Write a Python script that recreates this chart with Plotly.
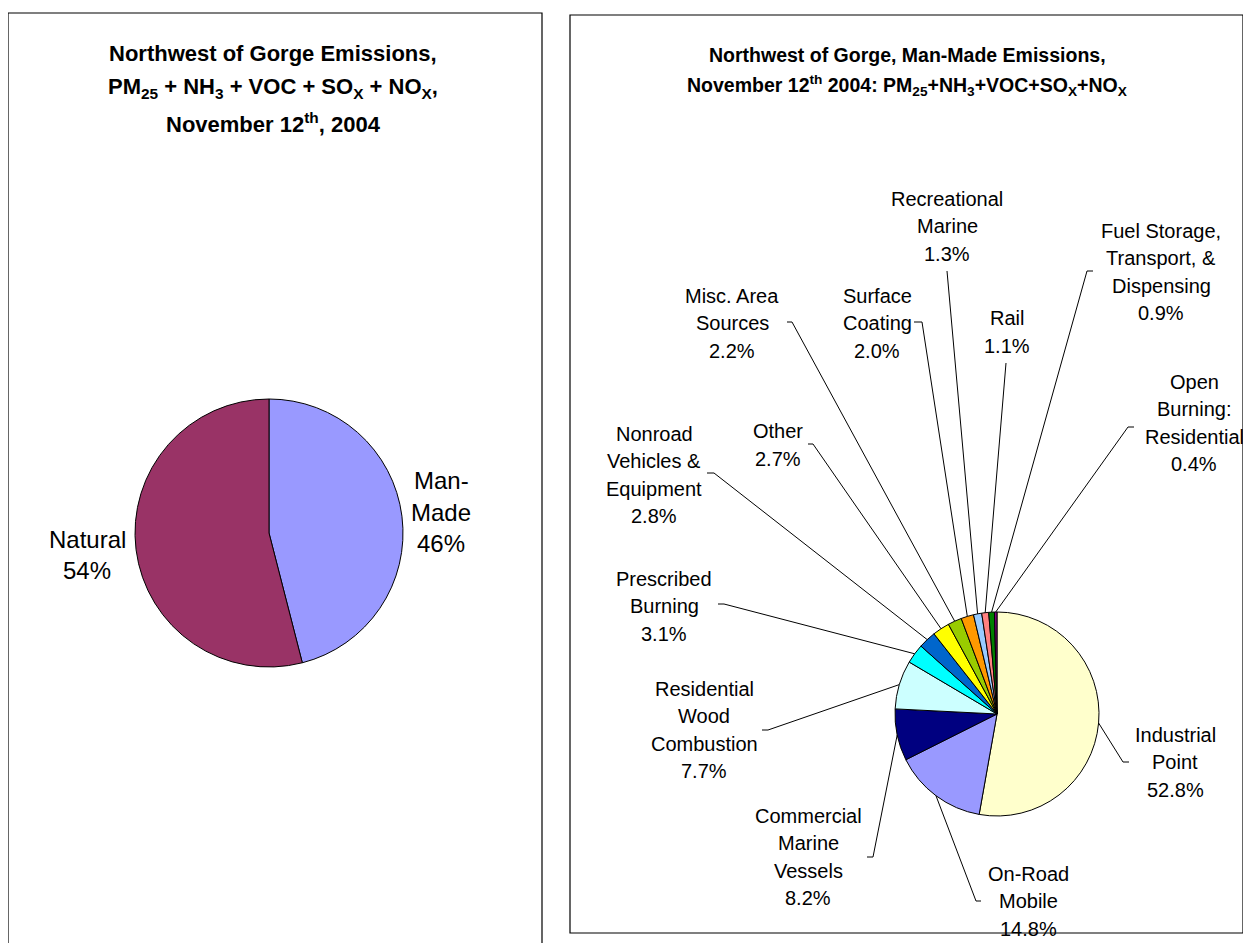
import math
import plotly.graph_objects as go

W, H = 1251, 943
OFF = 8  # default page margin of the html body

# left chart: all emissions
all_names = ["Man-\nMade", "Natural"]
all_values = [46, 54]
all_colors = ["#9999FF", "#993366"]

# right chart: man-made emissions by source category
mm_names = [
    "Industrial\nPoint",
    "On-Road\nMobile",
    "Commercial\nMarine\nVessels",
    "Residential\nWood\nCombustion",
    "Prescribed\nBurning",
    "Nonroad\nVehicles &\nEquipment",
    "Other",
    "Misc. Area\nSources",
    "Surface\nCoating",
    "Recreational\nMarine",
    "Rail",
    "Fuel Storage,\nTransport, &\nDispensing",
    "Open\nBurning:\nResidential",
]
mm_values = [52.8, 14.8, 8.2, 7.7, 3.1, 2.8, 2.7, 2.2, 2.0, 1.3, 1.1, 0.9, 0.4]
mm_colors = ["#FFFFCC", "#9999FF", "#000080", "#CCFFFF", "#00FFFF", "#0066CC",
             "#FFFF00", "#99CC00", "#FF9900", "#99CCFF", "#FF8080", "#008000", "#800080"]

# layout (pixel positions in the page)
LEFT_PIE = (269, 533, 134)
RIGHT_PIE = (997, 714, 102)
all_label_pos = [(441, 512), (87, 555)]
mm_label_pos = [(1175, 762), (1028, 901), (808, 857), (704, 730), (664, 606),
                (654, 475), (778, 445), (732, 323), (877, 323), (947, 226),
                (1007, 332), (1161, 272), (1194, 423)]
# leader line tip at the label, and the elbow x (None = straight line)
mm_tips = [(1129, 762, 1123), (981, 901, 976), (867, 857, 873), (762, 730, 768),
           (718, 604, 724), (707, 473, 714), (808, 444, 813), (787, 322, 792),
           (914, 322, 922), (947, 271, None), (1006, 363, None),
           (1093, 271, 1087), (1134, 427, 1128)]

FONT = "Arial, Liberation Sans, sans-serif"


def domain_for(cx, cy, r):
    fw, fh = W - OFF, H - OFF
    return dict(x=[(cx - r - OFF) / fw, (cx + r - OFF) / fw],
                y=[1 - (cy + r - OFF) / fh, 1 - (cy - r - OFF) / fh])


def mid_edge_points(values, cx, cy, r):
    total = sum(values)
    pts, acc = [], 0.0
    for v in values:
        a = math.radians((acc + v / 2) / total * 360)
        pts.append((cx + r * math.sin(a), cy - r * math.cos(a)))
        acc += v
    return pts


def text_block(lines, x, y, size, step, bold=False):
    out = []
    n = len(lines)
    for i, line in enumerate(lines):
        out.append(dict(x=x, y=y + (i - (n - 1) / 2) * step,
                        text="<b>%s</b>" % line if bold else line,
                        showarrow=False, xref="x", yref="y",
                        xanchor="center", yanchor="middle",
                        font=dict(family=FONT, size=size, color="black")))
    return out


fig = go.Figure()

# hidden pixel-space axes so that annotations and shapes can use page coordinates
fig.add_trace(go.Scatter(x=[OFF], y=[OFF], mode="markers", marker=dict(opacity=0),
                         hoverinfo="skip", showlegend=False))

for names, values, colors, geo in [(all_names, all_values, all_colors, LEFT_PIE),
                                   (mm_names, mm_values, mm_colors, RIGHT_PIE)]:
    fig.add_trace(go.Pie(
        labels=[n.replace("\n", " ") for n in names],
        values=values,
        marker=dict(colors=colors, line=dict(color="black", width=1)),
        sort=False,
        direction="clockwise",
        rotation=0,
        textinfo="none",
        showlegend=False,
        domain=domain_for(*geo),
    ))

annotations = []
shapes = []

# panel frames
shapes.append(dict(type="rect", x0=8, y0=13, x1=542, y1=960, xref="x", yref="y",
                   line=dict(color="black", width=1.2), layer="below"))
shapes.append(dict(type="rect", x0=570, y0=15, x1=1243, y1=933, xref="x", yref="y",
                   line=dict(color="black", width=1.2), layer="below"))

# titles
left_title = [
    "Northwest of Gorge Emissions,",
    "PM<sub>25</sub> + NH<sub>3</sub> + VOC + SO<sub>X</sub> + NO<sub>X</sub>,",
    "November 12<sup>th</sup>, 2004",
]
annotations += text_block(left_title, 273, 88, 22, 35, bold=True)
right_title = [
    "Northwest of Gorge, Man-Made Emissions,",
    "November 12<sup>th</sup> 2004: PM<sub>25</sub>+NH<sub>3</sub>+VOC+SO<sub>X</sub>+NO<sub>X</sub>",
]
annotations += text_block(right_title, 907, 70, 19.5, 31, bold=True)

# left pie labels
for name, v, (tx, ty) in zip(all_names, all_values, all_label_pos):
    annotations += text_block(name.split("\n") + ["%d%%" % v], tx, ty, 24, 31.5)

# right pie labels and leader lines
edges = mid_edge_points(mm_values, *RIGHT_PIE)
for name, v, (tx, ty), (px, py, ex), (sx, sy) in zip(mm_names, mm_values, mm_label_pos,
                                                     mm_tips, edges):
    annotations += text_block(name.split("\n") + ["%.1f%%" % v], tx, ty, 20, 27.5)
    if ex is None:
        path = "M %.1f %.1f L %.1f %.1f" % (sx, sy, px, py)
    else:
        path = "M %.1f %.1f L %.1f %.1f L %.1f %.1f" % (sx, sy, ex, py, px, py)
    shapes.append(dict(type="path", path=path, xref="x", yref="y",
                       line=dict(color="black", width=1)))

fig.update_layout(
    width=W - OFF, height=H - OFF,
    margin=dict(l=0, r=0, t=0, b=0),
    paper_bgcolor="white", plot_bgcolor="white",
    xaxis=dict(range=[OFF, W], visible=False, fixedrange=True),
    yaxis=dict(range=[H, OFF], visible=False, fixedrange=True),
    annotations=annotations,
    shapes=shapes,
    showlegend=False,
)

fig.write_html("out.html")
